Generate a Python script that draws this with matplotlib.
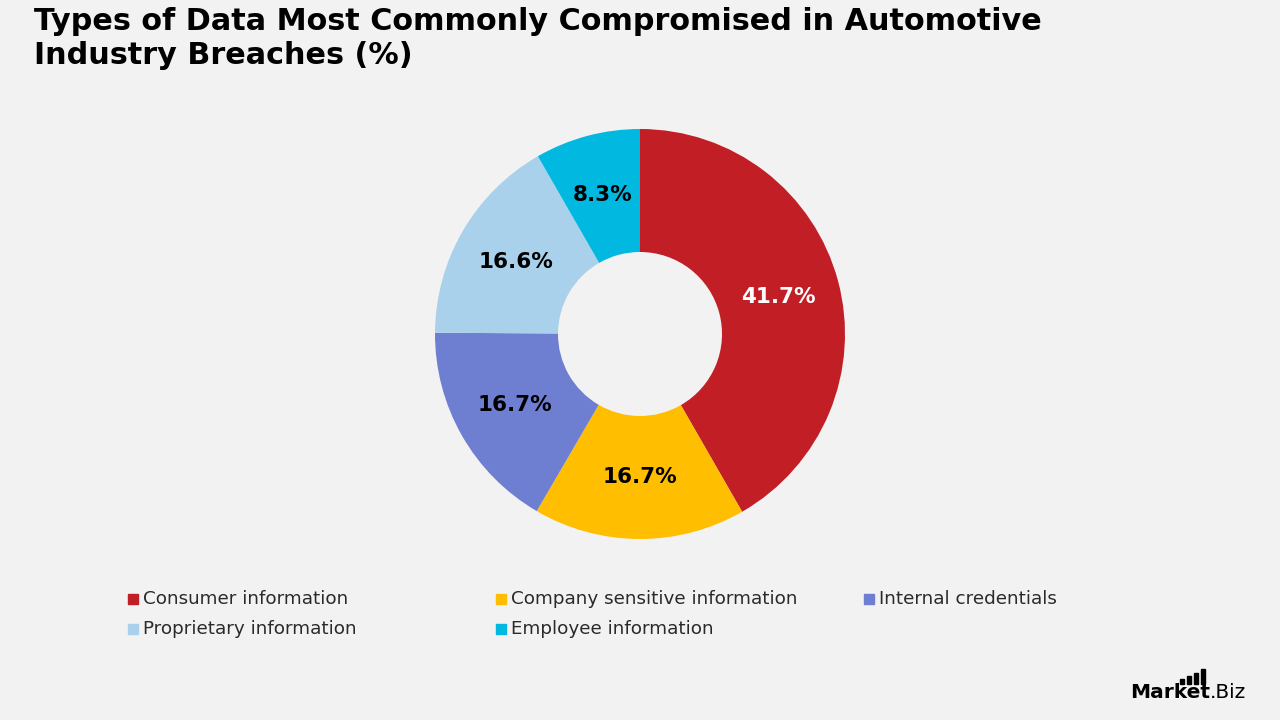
import matplotlib
matplotlib.use("Agg")
from matplotlib import pyplot as plt
from matplotlib.patches import Rectangle

labels = ['Consumer information', 'Company sensitive information', 'Internal credentials',
          'Proprietary information', 'Employee information']
values = [41.7, 16.7, 16.7, 16.6, 8.3]
colors = ['#C21E25', '#FFBE00', '#6E7FD2', '#A9D1EC', '#00B8E0']
text_colors = ['white', 'black', 'black', 'black', 'black']

bg = '#F2F2F2'
fig = plt.figure(figsize=(12.8, 7.2), dpi=100, facecolor=bg)

# donut centred at (640, 334) px, outer radius 205 px
W, H = 1280, 720
cx, cy, r = 640, 334, 205
ax = fig.add_axes([(cx - r) / W, (H - cy - r) / H, 2 * r / W, 2 * r / H])
ax.set_facecolor(bg)
wedges, texts, autotexts = ax.pie(values, colors=colors, startangle=90, counterclock=False,
                                  radius=1, wedgeprops=dict(width=0.6, linewidth=0),
                                  autopct='%.1f%%', pctdistance=0.7)
for t, c in zip(autotexts, text_colors):
    t.set_color(c)
    t.set_fontsize(15.5)
    t.set_fontweight('bold')
ax.set_xlim(-1, 1)
ax.set_ylim(-1, 1)
ax.set_aspect('equal')
ax.axis('off')

fig.text(34 / W, 1 - 7 / H, 'Types of Data Most Commonly Compromised in Automotive\nIndustry Breaches (%)',
         fontsize=21.8, fontweight='bold', va='top', ha='left', linespacing=1.22)

# legend, laid out by hand in rows of three
for i, (lab, col) in enumerate(zip(labels, colors)):
    x = 133 + (i % 3) * 368
    y = 599 + (i // 3) * 30
    fig.patches.append(Rectangle(((x - 5) / W, 1 - (y + 5) / H), 10 / W, 10 / H,
                                 transform=fig.transFigure, color=col))
    fig.text((x + 10) / W, 1 - y / H, lab, fontsize=13.2, va='center', ha='left',
             color='#2a2a2a')

# logo
fig.text(1130 / W, 1 - 693 / H, 'Market', fontsize=14.5, fontweight='bold', va='center', ha='left')
fig.text(1210 / W, 1 - 693 / H, '.Biz', fontsize=14.5, va='center', ha='left')
for k, hgt in enumerate([5, 8, 11, 15]):
    fig.patches.append(Rectangle(((1180 + k * 7) / W, 1 - 684 / H), 3.5 / W, hgt / H,
                                 transform=fig.transFigure, color='black'))

fig.savefig('out.png', dpi=100, facecolor=bg)
